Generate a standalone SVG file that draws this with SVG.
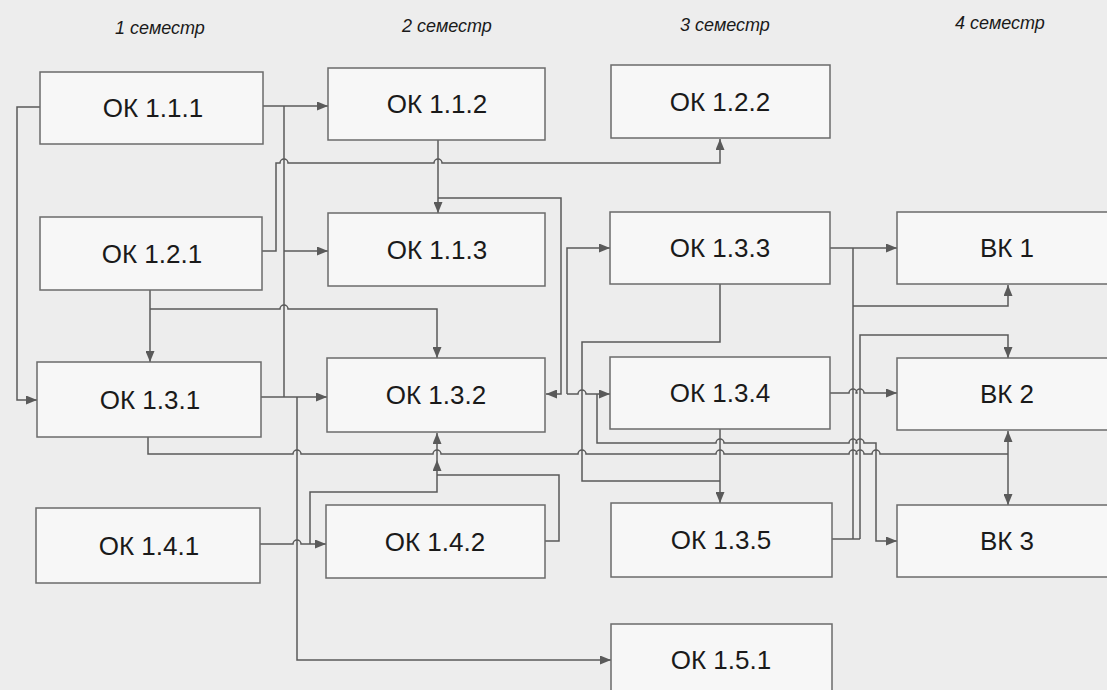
<svg xmlns="http://www.w3.org/2000/svg" width="1107" height="690" viewBox="0 0 1107 690">
<defs>
<marker id="ar" markerWidth="11" markerHeight="9" refX="11" refY="4.5" orient="auto" markerUnits="userSpaceOnUse">
<path d="M0,0 L11,4.5 L0,9 z" fill="#5a5a5a"/>
</marker>
<style>
.box{fill:#f7f7f7;stroke:#6b6b6b;stroke-width:1.5}
.lbl{font-family:"Liberation Sans",Arial,sans-serif;font-size:26px;fill:#1a1a1a;text-anchor:middle}
.hdr{font-family:"Liberation Sans",Arial,sans-serif;font-size:18px;font-style:italic;fill:#1a1a1a;text-anchor:middle}
.c{fill:none;stroke:#5a5a5a;stroke-width:1.5}
.a{marker-end:url(#ar)}
</style>
</defs>
<rect x="0" y="0" width="1107" height="690" fill="#ededed"/>
<g id="headers">
<text class="hdr" x="160" y="34">1 семестр</text>
<text class="hdr" x="447" y="32">2 семестр</text>
<text class="hdr" x="725" y="31">3 семестр</text>
<text class="hdr" x="1000" y="29">4 семестр</text>
</g>
<g id="connectors">
<path class="c a" d="M40,107 H17 V400 H37"/>
<path class="c a" d="M263,106 H328"/>
<path class="c" d="M284,106 V397"/>
<path class="c a" d="M284,251 H328"/>
<path class="c a" d="M261,397 H327"/>
<path class="c a" d="M297,397 V660 H611"/>
<path class="c a" d="M262,251 H276 V163 H280 A4,4 0 0 1 288,163 H434 A4,4 0 0 1 442,163 H720 V139"/>
<path class="c a" d="M150,290 V362"/>
<path class="c a" d="M150,309 H280 A4,4 0 0 1 288,309 H437 V358"/>
<path class="c a" d="M438,140 V213"/>
<path class="c a" d="M438,198 H561 V394 H546"/>
<path class="c a" d="M567,394 V248 H610"/>
<path class="c a" d="M567,394 H578 A4,4 0 0 1 586,394 H610"/>
<path class="c a" d="M597,394 V443 H716 A4,4 0 0 1 724,443 H849 A4,4 0 0 1 857,443 H856 A4,4 0 0 1 864,443 H876 V541 H897"/>
<path class="c" d="M720,284 V342 H582 V481 H720"/>
<path class="c a" d="M720,429 V503"/>
<path class="c" d="M148,437 V454 H293 A4,4 0 0 1 301,454 H433 A4,4 0 0 1 441,454 H578 A4,4 0 0 1 586,454 H716 A4,4 0 0 1 724,454 H849 A4,4 0 0 1 857,454 H856 A4,4 0 0 1 864,454 H872 A4,4 0 0 1 880,454 H1008"/>
<path class="c a" d="M1008,454 V431"/>
<path class="c a" d="M1008,454 V505"/>
<path class="c a" d="M260,544 H293 A4,4 0 0 1 301,544 H326"/>
<path class="c a" d="M310,544 V492 H437 V460"/>
<path class="c a" d="M437,460 V433"/>
<path class="c" d="M545,541 H559 V475 H437"/>
<path class="c a" d="M830,248 H897"/>
<path class="c" d="M853,248 V539"/>
<path class="c a" d="M853,306 H1008 V285"/>
<path class="c a" d="M860,539 V335 H1008 V358"/>
<path class="c" d="M832,539 H860"/>
<path class="c a" d="M830,393 H849 A4,4 0 0 1 857,393 H856 A4,4 0 0 1 864,393 H897"/>
</g>
<g id="ok111"><rect class="box" x="40" y="72" width="223" height="72"/><text class="lbl" x="153" y="117">ОК 1.1.1</text></g>
<g id="ok121"><rect class="box" x="40" y="217" width="222" height="73"/><text class="lbl" x="152" y="263">ОК 1.2.1</text></g>
<g id="ok131"><rect class="box" x="37" y="362" width="224" height="75"/><text class="lbl" x="150" y="409">ОК 1.3.1</text></g>
<g id="ok141"><rect class="box" x="36" y="508" width="224" height="75"/><text class="lbl" x="149" y="555">ОК 1.4.1</text></g>
<g id="ok112"><rect class="box" x="328" y="68" width="217" height="72"/><text class="lbl" x="437" y="113">ОК 1.1.2</text></g>
<g id="ok113"><rect class="box" x="328" y="213" width="217" height="73"/><text class="lbl" x="437" y="259">ОК 1.1.3</text></g>
<g id="ok132"><rect class="box" x="327" y="358" width="218" height="74"/><text class="lbl" x="436" y="404">ОК 1.3.2</text></g>
<g id="ok142"><rect class="box" x="326" y="505" width="219" height="73"/><text class="lbl" x="435" y="551">ОК 1.4.2</text></g>
<g id="ok122"><rect class="box" x="611" y="65" width="219" height="73"/><text class="lbl" x="720" y="111">ОК 1.2.2</text></g>
<g id="ok133"><rect class="box" x="610" y="212" width="220" height="72"/><text class="lbl" x="720" y="257">ОК 1.3.3</text></g>
<g id="ok134"><rect class="box" x="610" y="357" width="220" height="72"/><text class="lbl" x="720" y="402">ОК 1.3.4</text></g>
<g id="ok135"><rect class="box" x="611" y="503" width="221" height="74"/><text class="lbl" x="721" y="549">ОК 1.3.5</text></g>
<g id="ok151"><rect class="box" x="611" y="624" width="221" height="74"/><text class="lbl" x="721" y="669">ОК 1.5.1</text></g>
<g id="vk1"><rect class="box" x="897" y="212" width="215" height="72"/><text class="lbl" x="1007" y="257">ВК 1</text></g>
<g id="vk2"><rect class="box" x="897" y="358" width="215" height="72"/><text class="lbl" x="1007" y="403">ВК 2</text></g>
<g id="vk3"><rect class="box" x="897" y="505" width="215" height="72"/><text class="lbl" x="1007" y="550">ВК 3</text></g>
</svg>
